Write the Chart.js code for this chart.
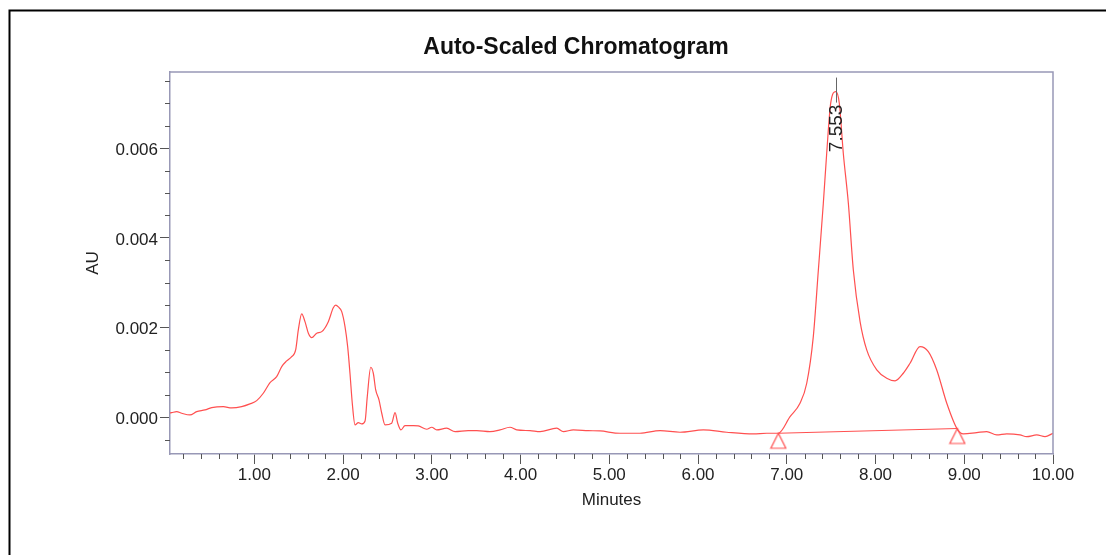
<!DOCTYPE html>
<html>
<head>
<meta charset="utf-8">
<title>Auto-Scaled Chromatogram</title>
<script src="https://cdn.jsdelivr.net/npm/chart.js@4.4.1/dist/chart.umd.min.js"></script>
<style>
  html, body { margin: 0; padding: 0; background: #fff; }
  canvas { display: block; }
</style>
</head>
<body>
<canvas id="chromatogram" width="1106" height="555"></canvas>
<script>
// Detector trace: retention time (min) and absorbance (AU)
const retentionTimes = [
  0.05, 0.069, 0.125, 0.182, 0.275, 0.351, 0.444, 0.52, 0.651, 0.745,
  0.858, 0.951, 1.027, 1.101, 1.177, 1.252, 1.309, 1.365, 1.421, 1.466,
  1.496, 1.534, 1.571, 1.609, 1.647, 1.703, 1.76, 1.834, 1.89, 1.918, 1.947,
  1.985, 2.022, 2.052, 2.078, 2.104, 2.135, 2.172, 2.21, 2.248, 2.273,
  2.312, 2.341, 2.368, 2.405, 2.436, 2.473, 2.548, 2.586, 2.616, 2.653,
  2.698, 2.792, 2.848, 2.943, 2.999, 3.055, 3.168, 3.262, 3.411, 3.506,
  3.656, 3.769, 3.881, 3.957, 4.107, 4.22, 4.408, 4.483, 4.595, 4.764,
  4.896, 5.121, 5.346, 5.572, 5.797, 6.06, 6.323, 6.623, 6.774, 6.905,
  7.037, 7.149, 7.225, 7.299, 7.356, 7.412, 7.45, 7.495, 7.553, 7.592,
  7.637, 7.694, 7.75, 7.826, 7.901, 8.014, 8.126, 8.22, 8.313, 8.389,
  8.502, 8.595, 8.69, 8.803, 8.922, 8.99, 9.141, 9.253, 9.366, 9.479,
  9.628, 9.704, 9.817, 9.91, 10.0
];
const absorbance = [
  0.000096, 0.000103, 0.000125, 0.000089, 0.000051, 0.000125, 0.000163, 0.000214, 0.000236, 0.000207,
  0.000236, 0.000297, 0.00037, 0.000535, 0.000772, 0.000906, 0.00113, 0.001256, 0.001352, 0.001501,
  0.001947, 0.002304, 0.002132, 0.001874, 0.001775, 0.001874, 0.001909, 0.002132, 0.00244, 0.0025, 0.00246,
  0.002355, 0.002021, 0.001575, 0.000981, 0.000312, -0.000172, -0.00012, -0.000149, -0.000083, 0.00046,
  0.001115, 0.000981, 0.000609, 0.000386, 0.000089, -0.000172, -0.000134, 0.000103, -0.000134, -0.000283,
  -0.000187, -0.000187, -0.000194, -0.000268, -0.000223, -0.000283, -0.000245, -0.000321, -0.000299, -0.000299,
  -0.000321, -0.000283, -0.000223, -0.000283, -0.000299, -0.000321, -0.000245, -0.000321, -0.000283, -0.000299,
  -0.000306, -0.000357, -0.000357, -0.000299, -0.000335, -0.000283, -0.000335, -0.000372, -0.000357, -0.000357,
  0.000013, 0.000312, 0.000758, 0.001798, 0.003285, 0.004773, 0.005888, 0.007004, 0.007263, 0.007004,
  0.005888, 0.004773, 0.003285, 0.002132, 0.001501, 0.001055, 0.00087, 0.00081, 0.000981, 0.001204,
  0.001575, 0.001463, 0.001055, 0.000312, -0.000268, -0.000372, -0.000343, -0.000321, -0.000395, -0.000372,
  -0.000395, -0.000433, -0.000395, -0.000433, -0.000357
];

// Integration baseline drawn under the main peak
const baselineTimes = [6.905, 8.922];
const baselineValues = [-0.000357, -0.00025];

// Retention time labels
const peakTimes = [7.553];
const peakLabels = ['7.553'];

// Labelled ticks
const xTickLabels = ['1.00', '2.00', '3.00', '4.00', '5.00', '6.00', '7.00', '8.00', '9.00', '10.00'];
const yTickLabels = ['0.000', '0.002', '0.004', '0.006'];

const chartTitle = 'Auto-Scaled Chromatogram';

const TRACE = '#ff5050';
const FRAME = '#9898b6';
const TICK = '#555';
const TEXT = '#222';
const FONT = "'Liberation Sans', Arial, Helvetica, sans-serif";

function labelFor(list, value) {
  const hit = list.find(s => Math.abs(parseFloat(s) - value) < 1e-9);
  return hit === undefined ? '' : hit;
}

// triangle marker with its tip at the point centre
function makeTriangle() {
  const c = document.createElement('canvas');
  c.width = 18; c.height = 34;
  const g = c.getContext('2d');
  g.strokeStyle = TRACE;
  g.lineWidth = 1.2;
  g.beginPath();
  g.moveTo(9, 17);
  g.lineTo(16.5, 32);
  g.lineTo(1.5, 32);
  g.closePath();
  g.stroke();
  return c;
}

const pageFrame = {
  id: 'pageFrame',
  beforeDraw(chart) {
    const { ctx, width, height } = chart;
    ctx.save();
    ctx.fillStyle = '#fff';
    ctx.fillRect(0, 0, width, height);
    ctx.strokeStyle = '#000';
    ctx.lineWidth = 2;
    ctx.beginPath();
    ctx.moveTo(9.5, height);
    ctx.lineTo(9.5, 10.5);
    ctx.lineTo(width, 10.5);
    ctx.stroke();
    // heading sits a little right of the plot centre
    ctx.fillStyle = '#111';
    ctx.font = 'bold 23px ' + FONT;
    ctx.textAlign = 'center';
    ctx.textBaseline = 'middle';
    ctx.fillText(chartTitle, 576, 48);
    ctx.restore();
  },
  afterDraw(chart) {
    const { ctx, chartArea: a, scales: { x, y } } = chart;
    ctx.save();
    // top and right edges of the plot box
    ctx.strokeStyle = FRAME;
    ctx.lineWidth = 1.5;
    ctx.beginPath();
    ctx.moveTo(a.left, a.top);
    ctx.lineTo(a.right, a.top);
    ctx.lineTo(a.right, a.bottom);
    ctx.stroke();
    // short minor ticks
    ctx.strokeStyle = TICK;
    ctx.lineWidth = 1;
    ctx.beginPath();
    x.ticks.forEach(t => {
      if (t.label !== '') return;
      const px = Math.round(x.getPixelForValue(t.value)) + 0.5;
      ctx.moveTo(px, a.bottom);
      ctx.lineTo(px, a.bottom + 5);
    });
    y.ticks.forEach(t => {
      if (t.label !== '') return;
      const py = Math.round(y.getPixelForValue(t.value)) + 0.5;
      ctx.moveTo(a.left, py);
      ctx.lineTo(a.left - 5, py);
    });
    ctx.stroke();
    ctx.restore();
  }
};

const peakNames = {
  id: 'peakNames',
  afterDatasetsDraw(chart) {
    const { ctx, scales: { x, y } } = chart;
    ctx.save();
    peakTimes.forEach((t, i) => {
      const idx = retentionTimes.indexOf(t);
      const px = Math.round(x.getPixelForValue(t)) + 0.5;
      const py = y.getPixelForValue(absorbance[idx]);
      ctx.strokeStyle = '#666';
      ctx.lineWidth = 1;
      ctx.beginPath();
      ctx.moveTo(px, py - 14);
      ctx.lineTo(px, py + 11);
      ctx.stroke();
      ctx.translate(px, py + 13);
      ctx.rotate(-Math.PI / 2);
      ctx.fillStyle = TEXT;
      ctx.font = '19px ' + FONT;
      ctx.textAlign = 'right';
      ctx.textBaseline = 'middle';
      ctx.fillText(peakLabels[i], 0, 0);
    });
    ctx.restore();
  }
};

new Chart(document.getElementById('chromatogram'), {
  type: 'line',
  data: {
    datasets: [
      {
        data: retentionTimes.map((t, i) => ({ x: t, y: absorbance[i] })),
        borderColor: TRACE,
        borderWidth: 1.2,
        pointRadius: 0,
        cubicInterpolationMode: 'monotone',
        fill: false
      },
      {
        data: baselineTimes.map((t, i) => ({ x: t, y: baselineValues[i] })),
        borderColor: TRACE,
        borderWidth: 1.1,
        pointStyle: makeTriangle(),
        pointRadius: 9,
        tension: 0,
        fill: false
      }
    ]
  },
  options: {
    responsive: false,
    animation: false,
    devicePixelRatio: 1,
    layout: { padding: { left: 79, right: 53, top: 72, bottom: 0 } },
    plugins: {
      legend: { display: false },
      tooltip: { enabled: false },
      title: { display: false }
    },
    scales: {
      x: {
        type: 'linear',
        min: 0.05,
        max: 10,
        afterBuildTicks: scale => {
          const ticks = [];
          for (let k = 1; k <= 50; k++) ticks.push({ value: k / 5 });
          scale.ticks = ticks;
        },
        afterFit: scale => { scale.height = 101; },
        grid: {
          drawOnChartArea: false,
          tickLength: 10,
          tickColor: ctx => labelFor(xTickLabels, ctx.tick.value) ? TICK : 'rgba(0,0,0,0)'
        },
        border: { color: FRAME, width: 1.5 },
        ticks: {
          autoSkip: false,
          maxRotation: 0,
          padding: 1,
          color: TEXT,
          font: { family: FONT, size: 17 },
          callback: value => labelFor(xTickLabels, value)
        },
        title: {
          display: true,
          text: 'Minutes',
          color: TEXT,
          font: { family: FONT, size: 17 },
          padding: { top: 4, bottom: 44 }
        }
      },
      y: {
        type: 'linear',
        min: -0.00082,
        max: 0.0077,
        afterBuildTicks: scale => {
          const ticks = [];
          for (let k = -1; k <= 15; k++) ticks.push({ value: k / 2000 });
          scale.ticks = ticks;
        },
        afterFit: scale => { scale.width = 91; },
        grid: {
          drawOnChartArea: false,
          tickLength: 10,
          tickColor: ctx => labelFor(yTickLabels, ctx.tick.value) ? TICK : 'rgba(0,0,0,0)'
        },
        border: { color: FRAME, width: 1.5 },
        ticks: {
          autoSkip: false,
          padding: 2,
          labelOffset: 2,
          color: TEXT,
          font: { family: FONT, size: 17 },
          callback: value => labelFor(yTickLabels, value)
        },
        title: {
          display: true,
          text: 'AU',
          color: TEXT,
          font: { family: FONT, size: 17 },
          padding: { top: 4, bottom: 4 }
        }
      }
    }
  },
  plugins: [pageFrame, peakNames]
});
</script>
</body>
</html>
